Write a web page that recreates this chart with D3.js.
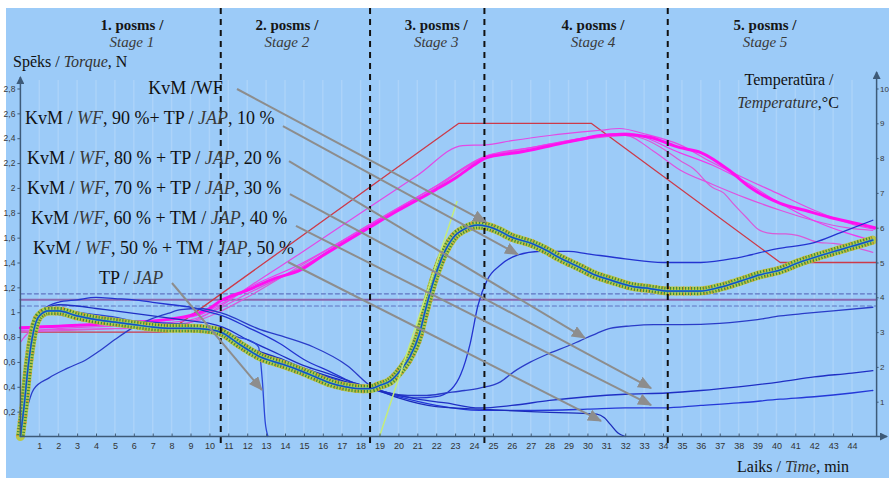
<!DOCTYPE html>
<html><head><meta charset="utf-8">
<script src="https://cdn.jsdelivr.net/npm/d3@7"></script>
<style>body{margin:0;background:#fff}svg{display:block}</style>
</head><body><svg id="c" width="889" height="478"></svg>
<script>
// ---------- DATA ----------
const timeTicks = [1,2,3,4,5,6,7,8,9,10,11,12,13,14,15,16,17,18,19,20,21,22,23,24,25,26,27,28,29,30,31,32,33,34,35,36,37,38,39,40,41,42,43,44];
const torqueTicks = [0.2,0.4,0.6,0.8,1,1.2,1.4,1.6,1.8,2,2.2,2.4,2.6,2.8];
const tempTicks = [1,2,3,4,5,6,7,8,9,10];
const stageNames = ["1. posms /","2. posms /","3. posms /","4. posms /","5. posms /"];
const stageNamesEn = ["Stage 1","Stage 2","Stage 3","Stage 4","Stage 5"];
const stageBounds = [10.6, 18.5, 24.55, 34.25];
const stageCenters = [5.9, 14.1, 22.0, 30.3, 39.4];

// temperature program (red)
const progT = [0, 7.8, 23.2, 30.2, 40.2, 45.3];
const progV = [3.0, 3.0, 9.0, 9.0, 5.0, 5.0];
// reference temperature levels
const refSolid = [3.93];
const refDashed = [4.1, 3.75];

// measured temperatures (magenta)
const mag1T = [0,2,4,6,8,9,10,10.6,12,13.5,14.8,16,18.5,20,22,23.1,24,24.6,25.5,26.4,28,30,30.7,32,33.3,34.9,36,37.5,38.6,40.2,41.5,42.8,44,45.2];
const mag1V = [3.12,3.17,3.22,3.28,3.38,3.48,3.68,3.9,4.2,4.55,4.78,5.2,6.02,6.5,7.1,7.46,7.8,8.0,8.1,8.17,8.35,8.58,8.65,8.68,8.6,8.3,8.16,7.65,7.16,6.7,6.5,6.3,6.15,6.0];
const mag2T = [0,5,8,9.1,10.6,12.5,14.8,18.5,21,23.4,24.6,26,28,30.7,31.7,33,34.9,36.5,38,40,42,44,45.2];
const mag2V = [3.05,3.1,3.15,3.3,3.75,4.45,5.26,6.6,7.5,8.36,8.38,8.5,8.65,8.8,8.85,8.7,8.38,7.9,7.5,7.0,6.5,6.1,5.95];
const mag3T = [0,4,8,9.5,10.6,12,14.8,18.5,22,24.6,26,28,30,31.5,33,34.2,34.9,35.6,36.6,37.2,37.7,38.4,39.1,39.8,40.5,41.1,42.3,43,43.7,44.4,45.1];
const mag3V = [3.0,3.08,3.2,3.35,3.6,4.0,4.9,6.1,7.2,8.05,8.2,8.4,8.6,8.7,8.55,8.2,7.93,7.7,7.16,7.0,6.7,6.3,5.93,5.83,5.82,5.78,5.57,5.55,5.49,5.4,5.29];
const mag4T = [0,0.5,2,6,9,10.6,12,14.8,18.5,22,24.6,27,30,32,33.5,34.9,36.6,38.4,40.2,42,43.7,45.1];
const mag4V = [2.7,3.0,3.1,3.2,3.35,3.7,4.1,4.85,6.05,7.15,8.02,8.25,8.55,8.65,8.2,7.66,7.25,6.85,6.5,6.2,6.0,5.92];
const mag5T = [0,3,7,9.5,10.6,12,14.8,18.5,22,24.6,27,30,32,34.9,36.6,38.4,40.2,42,43.7,45.1];
const mag5V = [3.15,3.2,3.3,3.5,3.8,4.25,4.95,6.1,7.2,8.05,8.3,8.6,8.72,8.15,7.8,7.3,6.7,6.2,5.85,5.63];

// torque curves
const kvmT = [0,0.2,0.4,0.7,1,1.5,2,3,4,5,6,7,8,9,10,10.6,11.6,12.7,13.9,14.8,15.6,16.4,17.2,18,18.5,19,19.6,20.1,20.6,21.1,21.4,21.7,22.2,22.9,23.5,24.2,24.7,25.4,25.9,27.1,27.8,28.5,29.6,30.4,31.2,32.3,33.3,34.4,35.9,37,38.1,39.1,40.2,41.2,42.2,43.3,44.2,45.1];
const kvmV = [0,0.25,0.55,0.85,0.97,1.01,1.01,0.97,0.94,0.92,0.9,0.88,0.87,0.87,0.86,0.84,0.74,0.64,0.58,0.53,0.48,0.43,0.4,0.385,0.385,0.41,0.45,0.53,0.64,0.82,1.0,1.17,1.4,1.6,1.67,1.7,1.69,1.65,1.61,1.55,1.5,1.44,1.36,1.3,1.26,1.21,1.19,1.17,1.17,1.2,1.25,1.3,1.34,1.4,1.45,1.5,1.54,1.58];
const tangentT = [19.0, 23.1];
const tangentV = [0, 1.89];

const s90T = [0,0.4,0.8,1.2,2,3,4,5,6,7,8,9,10,10.7,12,13.7,15,16.4,17.5,18.6,20,21,22,22.8,23.3,23.8,24.2,24.7,25.4,26.3,27.5,29,30,32,34,36,38,40,42,43.4,45.1];
const s90V = [0,0.45,0.9,1.02,1.08,1.1,1.12,1.11,1.1,1.08,1.06,1.04,1.0,0.97,0.88,0.75,0.62,0.52,0.44,0.39,0.33,0.31,0.32,0.38,0.5,0.75,1.05,1.26,1.38,1.46,1.49,1.49,1.47,1.43,1.4,1.4,1.44,1.51,1.56,1.64,1.74];
const s80T = [0,0.3,0.7,1.5,2.5,3.5,4.2,5,6,7,7.8,8.5,9.5,10.7,12.7,14,15.5,17.3,18.6,19.5,20.5,21.5,22.5,23.5,24.3,25.4,26.1,27,28,29,29.6,30.5,31.2,32.3,33.5,35,37,39,40.2,41.5,43,45.1];
const s80V = [0,0.2,0.38,0.47,0.55,0.62,0.69,0.78,0.88,0.95,0.99,1.02,1.03,0.99,0.86,0.8,0.72,0.57,0.4,0.35,0.33,0.33,0.35,0.37,0.39,0.44,0.52,0.6,0.67,0.73,0.77,0.83,0.87,0.89,0.9,0.9,0.91,0.94,0.97,0.99,1.01,1.04];
const s70T = [0,0.3,0.6,1,1.5,2,3,4,5,6,7,8,9,10,10.7,12,13.7,15,16.4,17.5,18.6,20,21,22.5,24.3,26,28,30,32,34.2,36,38,40.2,42,44,45.1];
const s70V = [0,0.35,0.75,0.98,1.04,1.06,1.05,1.03,1.01,0.99,0.97,0.95,0.93,0.91,0.88,0.78,0.66,0.57,0.5,0.44,0.39,0.33,0.3,0.27,0.23,0.25,0.29,0.32,0.34,0.35,0.37,0.4,0.44,0.48,0.51,0.53];
const s60T = [0,0.3,0.6,1,1.5,2,3,4,5,6,7,8,9,10,10.7,12,13.7,15,16.4,17.5,18.6,20,22,24.3,27,30,32,34,36,38,40.2,42,44,45.1];
const s60V = [0,0.3,0.7,0.92,1.0,1.02,1.0,0.97,0.95,0.93,0.92,0.91,0.9,0.87,0.82,0.72,0.62,0.54,0.47,0.42,0.38,0.32,0.25,0.21,0.21,0.22,0.23,0.23,0.25,0.27,0.3,0.32,0.35,0.37];
const s50T = [0,0.3,0.6,1,1.5,2,3,4,5,6,7,8,9,10,10.7,12,13.7,15,16.4,17.5,18.6,20,22,24.3,27,29,30.5,30.9,31.2,31.6,32];
const s50V = [0,0.35,0.8,0.95,1.0,0.98,0.96,0.94,0.92,0.91,0.9,0.89,0.88,0.86,0.81,0.72,0.63,0.55,0.48,0.43,0.39,0.31,0.24,0.22,0.2,0.19,0.18,0.15,0.1,0.03,0];
const tpT = [0,0.3,0.6,1,1.5,2,3,4,5,6,7,8,9,10,10.6,11.5,12.3,12.6,12.8,12.95,13.1];
const tpV = [0,0.3,0.7,0.95,1.02,1.03,1.0,0.98,0.96,0.93,0.91,0.9,0.89,0.87,0.85,0.8,0.76,0.72,0.45,0.12,0];

// annotation labels (segments: [text, italic])
const labelTexts = [
  [["KvM /WF",0]],
  [["KvM / ",0],["WF",1],[", 90 %+ TP / ",0],["JAP",1],[", 10 %",0]],
  [["KvM / ",0],["WF",1],[", 80 % + TP / ",0],["JAP",1],[", 20 %",0]],
  [["KvM / ",0],["WF",1],[", 70 % + TP / ",0],["JAP",1],[", 30 %",0]],
  [["KvM /",0],["WF",1],[", 60 % + TM / ",0],["JAP",1],[", 40 %",0]],
  [["KvM / ",0],["WF",1],[", 50 % + TM / ",0],["JAP",1],[", 50 %",0]],
  [["TP / ",0],["JAP",1]]
];
// label anchor (time, torque) and arrow start/end in (time, torque)
const labelAt   = [[6.76,2.755],[0.24,2.514],[0.35,2.192],[0.35,1.951],[0.56,1.71],[0.67,1.468],[4.16,1.227]];
const arrowFrom = [[11.46,2.796],[13.89,2.498],[14.21,2.216],[14.26,1.951],[14.58,1.694],[14.16,1.404],[8.02,1.235]];
const arrowTo   = [[24.63,1.725],[26.33,1.464],[29.87,0.792],[33.37,0.389],[33.37,0.253],[30.72,0.125],[12.78,0.374]];

// ---------- CHART ----------
const W = 889, H = 478;
const svg = d3.select("#c");
const serif = "'Liberation Serif','Times New Roman',serif";
const sans = "'Liberation Sans',Arial,sans-serif";

svg.append("rect").attr("x",6).attr("y",8).attr("width",W-6).attr("height",H-8).attr("fill","#9ccbf8");

const x = d3.scaleLinear().domain([0,45.3]).range([20.4,876.6]);
const yL = d3.scaleLinear().domain([0,2.8]).range([436.5,88.5]);
const yR = d3.scaleLinear().domain([0,10]).range([436.5,88.5]);

const defs = svg.append("defs");
defs.append("marker").attr("id","ag").attr("markerUnits","userSpaceOnUse")
  .attr("viewBox","0 0 14 12").attr("markerWidth",14).attr("markerHeight",12)
  .attr("refX",13).attr("refY",6).attr("orient","auto")
  .append("path").attr("d","M0,0 L14,6 L0,12 z").attr("fill","#8d8d8d");
defs.append("marker").attr("id","aa").attr("markerUnits","userSpaceOnUse")
  .attr("viewBox","0 0 8 8").attr("markerWidth",8).attr("markerHeight",8)
  .attr("refX",7).attr("refY",4).attr("orient","auto")
  .append("path").attr("d","M0,0 L8,4 L0,8 z").attr("fill","#3d5a78");

// faint grid
svg.append("g").selectAll("line").data(timeTicks).join("line")
  .attr("x1",d=>x(d)).attr("x2",d=>x(d)).attr("y1",80).attr("y2",436)
  .attr("stroke","#ffffff").attr("stroke-opacity",0.16).attr("stroke-width",1.5);

const lineL = d3.line().x(d=>x(d[0])).y(d=>yL(d[1])).curve(d3.curveMonotoneX);
const lineR = d3.line().x(d=>x(d[0])).y(d=>yR(d[1])).curve(d3.curveMonotoneX);
const lineRlin = d3.line().x(d=>x(d[0])).y(d=>yR(d[1]));

const plot = svg.append("g").attr("fill","none").attr("stroke-linejoin","round").attr("stroke-linecap","round");

// reference lines
plot.selectAll(".rd").data(refDashed).join("line").attr("class","rd")
  .attr("x1",x(0)).attr("x2",x(45.3)).attr("y1",d=>yR(d)).attr("y2",d=>yR(d))
  .attr("stroke","#5f74c0").attr("stroke-width",1.2).attr("stroke-dasharray","4,3");
plot.selectAll(".rs").data(refSolid).join("line").attr("class","rs")
  .attr("x1",x(0)).attr("x2",x(45.3)).attr("y1",d=>yR(d)).attr("y2",d=>yR(d))
  .attr("stroke","#8a68b0").attr("stroke-width",2);

// program
plot.append("path").attr("d",lineRlin(d3.zip(progT,progV))).attr("stroke","#cc3a4a").attr("stroke-width",1.3);

// magenta thin
[[mag2T,mag2V,"#e24ae6"],[mag3T,mag3V,"#d95ad8"],[mag4T,mag4V,"#e050e0"],[mag5T,mag5V,"#ee3cee"]].forEach(s=>{
  plot.append("path").attr("d",lineR(d3.zip(s[0],s[1]))).attr("stroke",s[2]).attr("stroke-width",1.2);
});
plot.append("path").attr("d",lineR(d3.zip(mag1T,mag1V))).attr("stroke","#ff10f0").attr("stroke-width",3);

// blue torque curves
[[s90T,s90V,"#2333d0"],[s80T,s80V,"#2a3cc8"],[s70T,s70V,"#1f2fc4"],[s60T,s60V,"#2438d8"],[s50T,s50V,"#1c2cba"],[tpT,tpV,"#2a46d8"]].forEach(s=>{
  plot.append("path").attr("d",lineL(d3.zip(s[0],s[1]))).attr("stroke",s[2]).attr("stroke-width",1.3);
});

// KvM/WF noisy band
const kd = lineL(d3.zip(kvmT,kvmV));
plot.append("path").attr("d",kd).attr("stroke","#b8c84a").attr("stroke-width",9);
plot.append("path").attr("d",kd).attr("stroke","#e0902c").attr("stroke-width",9).attr("stroke-dasharray","1,6").attr("stroke-linecap","butt");
plot.append("path").attr("d",kd).attr("stroke","#3f8a36").attr("stroke-width",8).attr("stroke-dasharray","1.2,1.8").attr("stroke-linecap","butt").attr("stroke-dashoffset",2);
plot.append("path").attr("d",kd).attr("stroke","#e9ec5c").attr("stroke-width",2.6).attr("stroke-opacity",0.7);
plot.append("path").attr("d",kd).attr("stroke","#28a0c0").attr("stroke-width",2.2);
plot.append("path").attr("d",kd).attr("stroke","#1f48c0").attr("stroke-width",1.2);

// tangent
plot.append("path").attr("d",d3.line().x(d=>x(d[0])).y(d=>yL(d[1]))(d3.zip(tangentT,tangentV)))
  .attr("stroke","#c4ec7c").attr("stroke-width",1.5);

// stage dividers
svg.append("g").selectAll("line").data(stageBounds).join("line")
  .attr("x1",d=>x(d)).attr("x2",d=>x(d)).attr("y1",8).attr("y2",447)
  .attr("stroke","#111").attr("stroke-width",2).attr("stroke-dasharray","6,5");

// stage labels
const st = svg.append("g").attr("font-family",serif).attr("text-anchor","middle");
st.selectAll(".s1").data(stageNames).join("text").attr("class","s1")
  .attr("x",(d,i)=>x(stageCenters[i])).attr("y",30).attr("font-size",15).attr("font-weight","bold").attr("fill","#161616").text(d=>d);
st.selectAll(".s2").data(stageNamesEn).join("text").attr("class","s2")
  .attr("x",(d,i)=>x(stageCenters[i])).attr("y",47).attr("font-size",15).attr("font-style","italic").attr("fill","#3a3a3a").text(d=>d);

// axes
const axC = "#3d5a78";
const gx = svg.append("g").attr("transform","translate(0,436.5)")
  .call(d3.axisBottom(x).tickValues(timeTicks).tickSize(-3).tickPadding(6).tickFormat(d3.format("d")));
gx.select(".domain").remove();
gx.selectAll("line").attr("stroke",axC);
gx.selectAll("text").attr("font-family",sans).attr("font-size",9).attr("fill","#333");
svg.append("line").attr("x1",x(0)).attr("x2",887).attr("y1",436.5).attr("y2",436.5)
  .attr("stroke",axC).attr("stroke-width",1.5).attr("marker-end","url(#aa)");

const gl = svg.append("g").attr("transform",`translate(${x(0)},0)`)
  .call(d3.axisLeft(yL).tickValues(torqueTicks).tickSize(3).tickPadding(2).tickFormat(d=>String(d).replace(".",",")));
gl.select(".domain").remove();
gl.selectAll("line").attr("stroke",axC);
gl.selectAll("text").attr("font-family",sans).attr("font-size",8.5).attr("fill","#3a3a3a");
svg.append("line").attr("x1",x(0)).attr("x2",x(0)).attr("y1",436.5).attr("y2",77)
  .attr("stroke",axC).attr("stroke-width",1.5).attr("marker-end","url(#aa)");

const gr = svg.append("g").attr("transform",`translate(${x(45.3)},0)`)
  .call(d3.axisRight(yR).tickValues(tempTicks).tickSize(2).tickPadding(1.5));
gr.select(".domain").remove();
gr.selectAll("line").attr("stroke",axC);
gr.selectAll("text").attr("font-family",sans).attr("font-size",8).attr("fill","#3a3a3a");
svg.append("line").attr("x1",x(45.3)).attr("x2",x(45.3)).attr("y1",436.5).attr("y2",72)
  .attr("stroke",axC).attr("stroke-width",1.5).attr("marker-end","url(#aa)");

// annotation arrows
svg.append("g").selectAll("line").data(arrowFrom).join("line")
  .attr("x1",d=>x(d[0])).attr("y1",d=>yL(d[1]))
  .attr("x2",(d,i)=>x(arrowTo[i][0])).attr("y2",(d,i)=>yL(arrowTo[i][1]))
  .attr("stroke","#8d8d8d").attr("stroke-width",2).attr("marker-end","url(#ag)");

// annotation labels
const lg = svg.append("g").attr("font-family",serif).attr("font-size",18).attr("fill","#111");
labelTexts.forEach((segs,i)=>{
  const t = lg.append("text").attr("x",x(labelAt[i][0])).attr("y",yL(labelAt[i][1]));
  segs.forEach(s=>{
    const ts = t.append("tspan").text(s[0]);
    if (s[1]) ts.attr("font-style","italic").attr("fill","#3a3a3a");
  });
});

// axis titles
const tt = svg.append("g").attr("font-family",serif).attr("fill","#111");
const t1 = tt.append("text").attr("x",13).attr("y",67).attr("font-size",16);
t1.append("tspan").text("Spēks / ");
t1.append("tspan").attr("font-style","italic").attr("fill","#333").text("Torque");
t1.append("tspan").text(", N");
tt.append("text").attr("x",789).attr("y",85).attr("font-size",16).attr("text-anchor","middle").text("Temperatūra /");
const t3 = tt.append("text").attr("x",788).attr("y",108).attr("font-size",16).attr("text-anchor","middle");
t3.append("tspan").attr("font-style","italic").attr("fill","#333").text("Temperature");
t3.append("tspan").text(",°C");
const t4 = tt.append("text").attr("x",737).attr("y",472).attr("font-size",16);
t4.append("tspan").text("Laiks / ");
t4.append("tspan").attr("font-style","italic").attr("fill","#333").text("Time");
t4.append("tspan").text(", min");
</script></body></html>
